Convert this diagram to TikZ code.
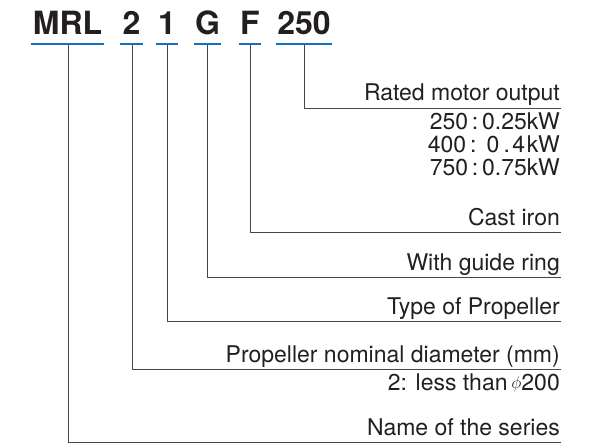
\documentclass[tikz,border=0pt]{standalone}
\usepackage{fontspec}
\setmainfont{TeX Gyre Heros}
\definecolor{codeblue}{RGB}{20,112,190}
\definecolor{linegray}{RGB}{70,70,70}
\definecolor{textgray}{RGB}{35,31,32}
\begin{document}
\begin{tikzpicture}[x=1pt,y=-1pt,
  code/.style={font=\fontsize{32}{36}\selectfont\bfseries, text=textgray, anchor=base, inner sep=0pt},
  desc/.style={font=\fontsize{23}{26}\selectfont, text=textgray, anchor=base east, inner sep=0pt},
  uline/.style={draw=codeblue, line width=2.4pt},
  conn/.style={draw=linegray, line width=0.9pt}]
\useasboundingbox (0,0) rectangle (601,446);
% code letters
\node[code] (cMRL) at (67.5,35) {MRL};
\node[code] (c2) at (131.5,35) {2};
\node[code] (c1) at (167,35) {1};
\node[code] (cG) at (207.5,35) {G};
\node[code] (cF) at (250,35) {F};
\node[code] (c250) at (304,35) {250};
% blue underlines
\draw[uline] (31,44) -- (104,44);
\draw[uline] (120,44) -- (143,44);
\draw[uline] (156,44) -- (178,44);
\draw[uline] (194,44) -- (221,44);
\draw[uline] (239,44) -- (261,44);
\draw[uline] (276,44) -- (332,44);
% start points of connectors
\coordinate (sMRL) at (68,45.5);
\coordinate (s2) at (132,45.5);
\coordinate (s1) at (167,45.5);
\coordinate (sG) at (207.5,45.5);
\coordinate (sF) at (250,45.5);
\coordinate (s250) at (304,45.5);
% ends
\coordinate (e250) at (561,108);
\coordinate (eF) at (561,232);
\coordinate (eG) at (561,277);
\coordinate (e1) at (561,321);
\coordinate (e2) at (561,369);
\coordinate (eMRL) at (561,442);
% descriptions
\node[desc] (d250) at (560,101) {Rated motor output};
\node[desc] (d250a) at (560,130) {250\,:\,0.25kW};
\node[desc] (d250b) at (560,153) {400\,:\ \,0\hspace{0.18em}.\hspace{0.1em}4\hspace{0.08em}kW};
\node[desc] (d250c) at (560,176) {750\,:\,0.75kW};
\node[desc] (dF) at (560,225) {Cast iron};
\node[desc] (dG) at (560,270) {With guide ring};
\node[desc] (d1) at (560,314) {Type of Propeller};
\node[desc] (d2) at (560,362) {Propeller nominal diameter (mm)};
\node[desc] (d2a) at (560,390) {2: less than\,\raisebox{1.5pt}{\fontsize{18}{20}\selectfont$\phi$}200};
\node[desc] (dMRL) at (560,435) {Name of the series};
% connectors
\draw[conn] (s250) |- (e250);
\draw[conn] (sF) |- (eF);
\draw[conn] (sG) |- (eG);
\draw[conn] (s1) |- (e1);
\draw[conn] (s2) |- (e2);
\draw[conn] (sMRL) |- (eMRL);
\end{tikzpicture}
\end{document}
